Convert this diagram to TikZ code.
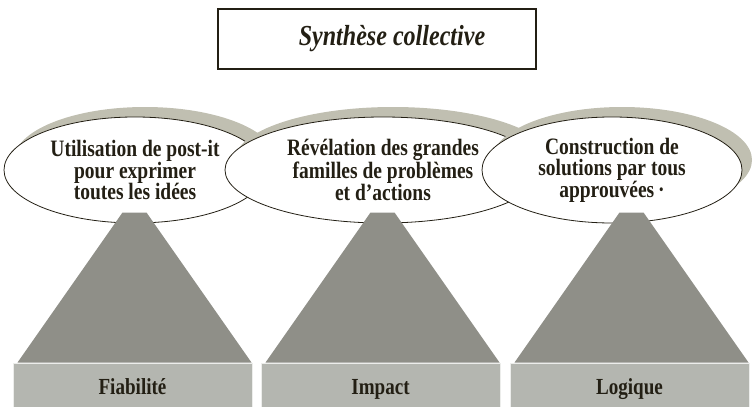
\documentclass[tikz,border=0pt]{standalone}
\usepackage{fontspec}
\setmainfont{Liberation Serif}[FakeStretch=0.83]
\usetikzlibrary{positioning, shapes.geometric, shadows, calc}

\definecolor{inkbrown}{HTML}{231F14}
\definecolor{shadowgray}{HTML}{C0BFB1}
\definecolor{pillargray}{HTML}{8F8F88}
\definecolor{basegray}{HTML}{B4B6B0}

\begin{document}
\begin{tikzpicture}[x=1pt, y=-1pt,
    idea/.style={ellipse, draw=inkbrown, line width=0.8pt, fill=white,
                 minimum height=106pt, inner sep=0pt, align=center,
                 text=inkbrown, font=\bfseries\fontsize{23.5}{21.4}\selectfont,
                 drop shadow={shadow xshift=10pt, shadow yshift=10pt,
                              fill=shadowgray, opacity=1}},
    pillar/.style={fill=pillargray},
    base/.style={fill=basegray, draw=white!75!basegray, line width=1pt,
                 minimum width=239pt, minimum height=44pt, inner sep=0pt,
                 text height=20pt, text depth=2pt, text=inkbrown,
                 font=\bfseries\fontsize{23}{26}\selectfont},
]

\useasboundingbox (0,0) rectangle (753,407);

% Title box
\node[draw=inkbrown, line width=2pt, minimum width=318pt, minimum height=60pt,
      inner sep=0pt, text=inkbrown,
      font=\bfseries\itshape\fontsize{29}{32}\selectfont]
    (synth) at (377,39) {\hspace*{30pt}Synthèse collective};

% Ideas, left to right (each one hides the end of the one before)
\node[idea, minimum width=262pt] (postit) at (135,170)
    {Utilisation de post-it\\pour exprimer\\toutes les idées};
\node[idea, minimum width=316pt] (familles) at (383,170)
    {Révélation des grandes\\familles de problèmes\\et d’actions};
\node[idea, minimum width=260pt] (solutions) at (612,170)
    {Construction de\\solutions par tous\\approuvées\,·};

% Bases
\node[base] (fiab) at (132.5,385) {Fiabilité};
\node[base] (impact) at (380.5,385) {Impact};
\node[base] (logique) at (629.5,385) {Logique};

% Pillars rising from the bases
\foreach \b in {fiab, impact, logique}
  \fill[pillar] ($(\b.north)+(-115,0)$) -- ($(\b.north)+(-10,-150)$)
             -- ($(\b.north)+(14,-150)$) -- ($(\b.north)+(119,0)$) -- cycle;

\end{tikzpicture}
\end{document}
